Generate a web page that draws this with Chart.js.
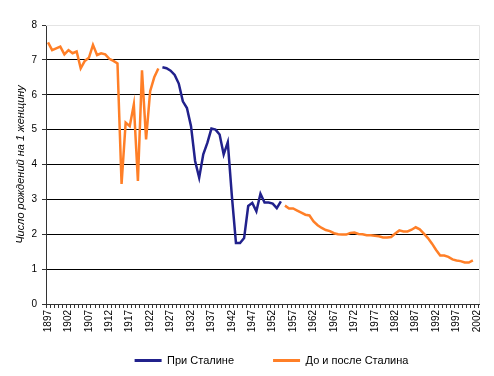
<!DOCTYPE html>
<html lang="ru">
<head>
    <meta charset="UTF-8">
    <title>Число рождений на 1 женщину</title>
    <script src="https://cdn.jsdelivr.net/npm/chart.js"></script>
    <style>
        body {
            margin: 0;
            padding: 0;
            background: #fff;
        }
        .chart-box {
            width: 494px;
            height: 376px;
        }
    </style>
</head>
<body>

<div class="chart-box">
    <canvas id="tfrChart"></canvas>
</div>

<script>
    // Годы по оси X
    const firstYear = 1897;
    const lastYear = 2002;
    const years = [];
    for (let y = firstYear; y <= lastYear; y++) years.push(String(y));

    // До Сталина: 1897-1924
    const beforeStalin = [7.50, 7.28, 7.33, 7.38, 7.16, 7.28, 7.19, 7.24, 6.76, 6.97,
                          7.06, 7.43, 7.14, 7.19, 7.16, 7.03, 6.97, 6.90, 3.44, 5.20,
                          5.10, 5.72, 3.53, 6.70, 4.72, 6.10, 6.50, 6.75];
    // При Сталине: 1925-1954
    const underStalin = [6.79, 6.76, 6.69, 6.57, 6.32, 5.81, 5.62, 5.10, 4.10, 3.62,
                         4.29, 4.62, 5.03, 5.00, 4.86, 4.29, 4.64, 3.10, 1.75, 1.75,
                         1.89, 2.81, 2.90, 2.66, 3.16, 2.91, 2.91, 2.88, 2.75, 2.94];
    // После Сталина: 1955-2001
    const afterStalin = [2.82, 2.74, 2.74, 2.68, 2.62, 2.56, 2.54, 2.37, 2.26, 2.18,
                         2.12, 2.09, 2.03, 2.00, 1.99, 1.99, 2.04, 2.05, 2.01, 2.00,
                         1.97, 1.97, 1.96, 1.94, 1.91, 1.91, 1.92, 2.02, 2.11, 2.08,
                         2.08, 2.13, 2.20, 2.14, 2.02, 1.89, 1.73, 1.55, 1.39, 1.39,
                         1.35, 1.28, 1.25, 1.23, 1.19, 1.19, 1.25];

    const blank = arr => arr.map(() => null);
    const stalinSeries = [...blank(beforeStalin), ...underStalin, ...blank(afterStalin), null];
    const otherSeries = [...beforeStalin, ...blank(underStalin), ...afterStalin, null];

    const fontFamily = "'Liberation Sans', Arial, sans-serif";
    const legendGap = 39;

    // светло-серая рамка сверху и справа, как в Excel
    const plotBorder = {
        id: 'plotBorder',
        beforeDatasetsDraw(chart) {
            const {ctx, chartArea} = chart;
            ctx.save();
            ctx.strokeStyle = '#e4e4e4';
            ctx.lineWidth = 1;
            ctx.beginPath();
            ctx.moveTo(chartArea.left, chartArea.top + 0.5);
            ctx.lineTo(chartArea.right + 0.5, chartArea.top + 0.5);
            ctx.lineTo(chartArea.right + 0.5, chartArea.bottom);
            ctx.stroke();
            ctx.restore();
        }
    };

    // легенда в Excel стоит правее центра; подписи оси X не обрезаем
    const layoutTweaks = {
        id: 'layoutTweaks',
        afterLayout(chart) {
            chart.legend.left += 32;
            chart.legend.right += 32;
            chart.scales.x.bottom = chart.height;
        }
    };

    new Chart(document.getElementById('tfrChart'), {
        type: 'line',
        data: {
            labels: years,
            datasets: [{
                label: 'При Сталине',
                data: stalinSeries,
                borderColor: '#21218c',
                backgroundColor: '#21218c',
                borderWidth: 2.5,
                pointRadius: 0,
                tension: 0
            }, {
                label: 'До и после Сталина',
                data: otherSeries,
                borderColor: '#ff7f27',
                backgroundColor: '#ff7f27',
                borderWidth: 2.5,
                pointRadius: 0,
                tension: 0
            }]
        },
        options: {
            responsive: true,
            maintainAspectRatio: false,
            animation: false,
            layout: {
                padding: {left: 0, right: 15, top: 25, bottom: 0}
            },
            plugins: {
                legend: {
                    position: 'bottom',
                    labels: {
                        boxWidth: 27,
                        boxHeight: 3,
                        padding: legendGap,
                        color: '#000',
                        font: {family: fontFamily, size: 11},
                        generateLabels: chart => Chart.defaults.plugins.legend.labels.generateLabels(chart)
                            .map(l => ({...l, lineWidth: 0}))
                    }
                },
                tooltip: {enabled: false}
            },
            scales: {
                x: {
                    type: 'category',
                    offset: true,
                    grid: {
                        offset: true,
                        drawOnChartArea: false,
                        drawTicks: true,
                        tickLength: 4,
                        color: '#333'
                    },
                    border: {color: '#333', width: 1},
                    ticks: {
                        autoSkip: false,
                        minRotation: 90,
                        maxRotation: 90,
                        padding: 2,
                        color: '#000',
                        font: {family: fontFamily, size: 10},
                        callback: function (val, i) {
                            return i % 5 === 0 ? this.getLabelForValue(val) : '';
                        }
                    },
                    // легенда забирает место снизу, поэтому ось делаем ниже
                    afterFit: scale => { scale.height = 51 - legendGap; }
                },
                y: {
                    min: 0,
                    max: 8,
                    grid: {
                        color: ctx => (ctx.tick && ctx.tick.value > 0 && ctx.tick.value < 8) ? '#000' : 'transparent',
                        tickColor: '#333',
                        tickLength: 4,
                        borderDash: [4, 3]
                    },
                    border: {color: '#333', width: 1},
                    ticks: {
                        stepSize: 1,
                        padding: 5,
                        color: '#000',
                        font: {family: fontFamily, size: 10}
                    },
                    title: {
                        display: true,
                        text: 'Число рождений на 1 женщину',
                        color: '#000',
                        padding: {top: 14, bottom: 0},
                        font: {family: fontFamily, size: 11, style: 'italic'}
                    },
                    afterFit: scale => { scale.width = 46; }
                }
            }
        },
        plugins: [plotBorder, layoutTweaks]
    });
</script>
</body>
</html>
